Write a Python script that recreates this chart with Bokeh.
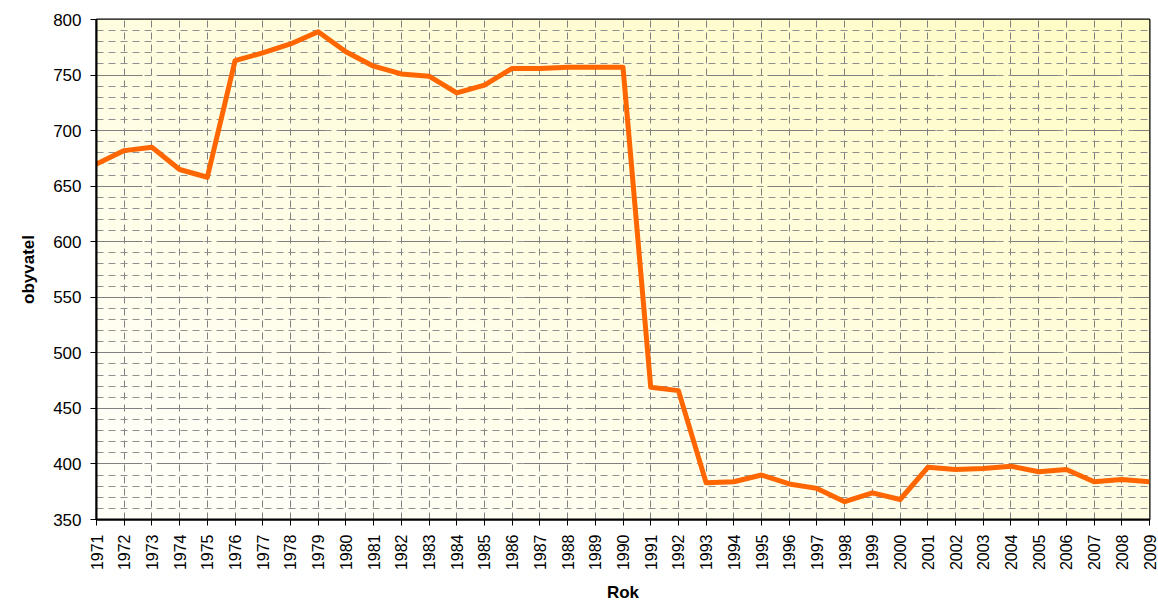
import numpy as np
from math import pi
from bokeh.plotting import figure
from bokeh.models import Range1d, FixedTicker, SingleIntervalTicker
from bokeh.embed import file_html
from bokeh.resources import INLINE

years = list(range(1971, 2010))
population = [670, 682, 685, 665, 658, 763, 770, 778, 789, 771,
              758, 751, 749, 734, 741, 756, 756, 757, 757, 757,
              469, 466, 383, 384, 390, 382, 378, 366, 374, 368,
              397, 395, 396, 398, 393, 395, 384, 386, 384]
x_label = "Rok"
y_label = "obyvatel"

x0, x1 = years[0], years[-1]
y0, y1 = 350, 800

p = figure(frame_width=1053, frame_height=500,
           x_range=Range1d(x0, x1), y_range=Range1d(y0, y1),
           output_backend="svg", toolbar_location=None,
           min_border_left=96, min_border_top=19, min_border_right=9, min_border_bottom=80)

# gradient background
N = 200
xs = np.linspace(0, 1, N)[None, :]
ys = np.linspace(0, 1, N)[:, None]
t = np.clip(0.55 * xs + 0.6 * ys - 0.1, 0, 1)
c0 = np.array([255, 255, 248])
c1 = np.array([255, 252, 200])
img = np.zeros((N, N), dtype=np.uint32)
view = img.view(dtype=np.uint8).reshape((N, N, 4))
for k in range(3):
    view[:, :, k] = (c0[k] + (c1[k] - c0[k]) * t).astype(np.uint8)
view[:, :, 3] = 255
p.image_rgba(image=[img], x=x0, y=y0, dw=x1 - x0, dh=y1 - y0, level="image")

p.line(years, population, line_color="#FF6600", line_width=5, line_join="round")

p.xaxis.ticker = FixedTicker(ticks=years)
p.yaxis.ticker = SingleIntervalTicker(interval=50, num_minor_ticks=5)

font = "Liberation Sans"
for ax in (p.xaxis[0], p.yaxis[0]):
    ax.axis_line_color = "black"
    ax.axis_line_width = 2
    ax.major_tick_line_color = "black"
    ax.major_tick_line_width = 1
    ax.major_tick_out = 6
    ax.major_tick_in = 0
    ax.minor_tick_line_color = None
    ax.major_label_text_font = font
    ax.major_label_text_font_size = "17px"
    ax.major_label_text_color = "black"
    ax.axis_label_text_font = font
    ax.axis_label_text_font_size = "17px"
    ax.axis_label_text_font_style = "bold"
    ax.axis_label_text_color = "black"

p.xaxis.major_label_text_font_size = "16px"
p.xaxis.axis_label = x_label
p.yaxis.axis_label = y_label
p.xaxis.major_label_orientation = pi / 2
p.xaxis.major_label_standoff = 9
p.yaxis.major_label_standoff = 9
p.yaxis.axis_label_standoff = 12
p.xaxis.axis_label_standoff = 10

p.xgrid.grid_line_color = "#808080"
p.xgrid.grid_line_dash = "7 5"
p.xgrid.grid_line_width = 1
p.ygrid.grid_line_color = "#808080"
p.ygrid.grid_line_dash = "46 15"
p.ygrid.grid_line_width = 1
p.ygrid.minor_grid_line_color = "#909090"
p.ygrid.minor_grid_line_dash = "7 5"
p.ygrid.minor_grid_line_width = 1

p.outline_line_color = "black"
p.outline_line_width = 2
p.background_fill_color = "#FFFFF0"
p.border_fill_color = "white"

open("out.html", "w").write(file_html(p, INLINE))
